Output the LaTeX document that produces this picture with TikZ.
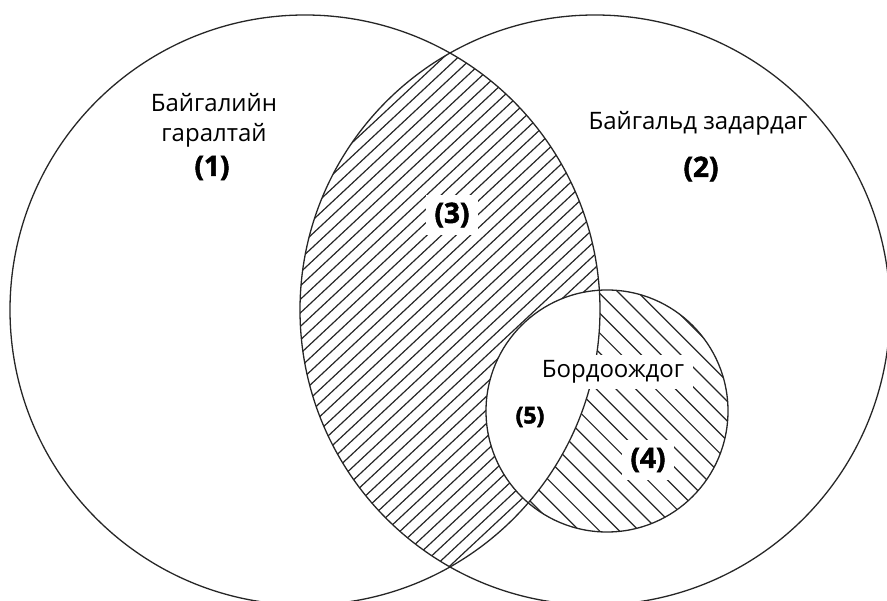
\documentclass[tikz,border=0pt]{standalone}
\usepackage{fontspec}
\setmainfont{Open Sans}
\newfontfamily\heavyfont{Open Sans}[BoldFeatures={FakeBold=2}]
\usetikzlibrary{positioning}
\tikzset{
  ring/.style={draw=black!85, line width=1.3pt},
  hatch/.style={black!85, line width=1.2pt},
  lab/.style={font=\fontsize{24}{28}\selectfont, inner sep=0pt},
  num/.style={font=\fontsize{28}{32}\selectfont\heavyfont\bfseries, inner sep=0pt},
  knock/.style={fill=white, inner xsep=9pt, inner ysep=8pt},
}

\begin{document}
\begin{tikzpicture}[x=1pt, y=-1pt]
    \useasboundingbox (0,0) rectangle (887,601);
    % lens between the two big sets, without the small set
    \begin{scope}[even odd rule]
      \clip (305,310) circle (295pt);
      \clip (595,310) circle (295pt);
      \clip (-10,-10) rectangle (900,620) (607,411) circle (121pt);
      \foreach \a in {-420,-405.5,...,570} \draw[hatch] (\a,620) -- ++(665,-621);
    \end{scope}
    % small set outside the left one
    \begin{scope}[even odd rule]
      \clip (-10,-10) rectangle (900,620) (305,310) circle (295pt);
      \clip (607,411) circle (121pt);
      \foreach \b in {-70,-50.2,...,450} \draw[hatch] (\b,0) -- ++(620,620);
    \end{scope}
    \draw[ring] (305,310) circle (295pt);
    \draw[ring] (595,310) circle (295pt);
    \draw[ring] (607,411) circle (121pt);
    \node[lab] (nat1) at (214,103) {Байгалийн};
    \node[lab] (nat2) at (214,135) {гаралтай};
    \node[num] (r1) at (212,168) {(1)};
    \node[lab] (deg) at (698,123) {Байгальд задардаг};
    \node[num] (r2) at (701,169) {(2)};
    \node[num, knock] (r3) at (452,215) {(3)};
    \node[lab, knock, inner ysep=6pt] (comp) at (613,372) {Бордоождог};
    \node[num, knock] (r4) at (648,460) {(4)};
    \node[num, font=\fontsize{23}{27}\selectfont\heavyfont\bfseries] (r5) at (530,417) {(5)};
\end{tikzpicture}
\end{document}
